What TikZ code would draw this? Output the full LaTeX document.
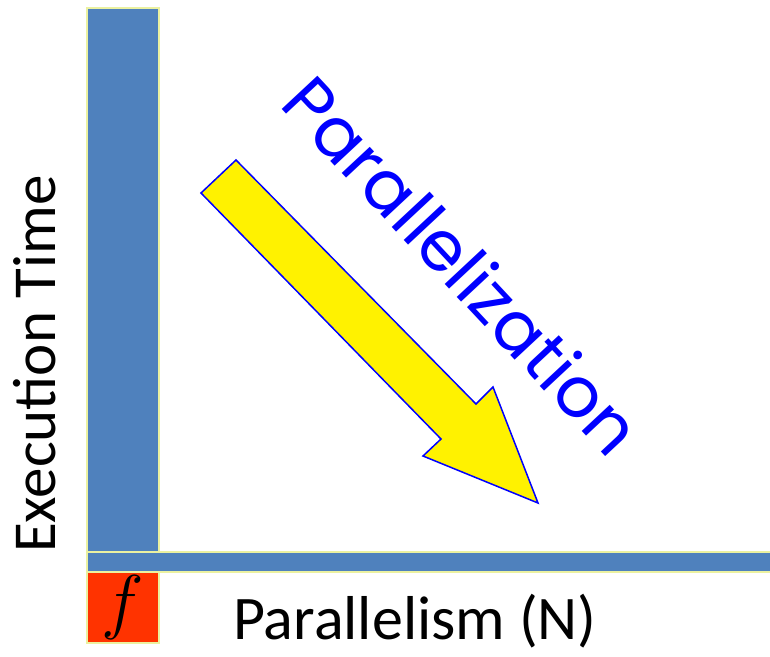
\RequirePackage{fix-cm}
\documentclass[tikz,border=0pt]{standalone}
\usepackage{fontspec}
\setmainfont{Carlito}
\newfontfamily\geofont{Poppins}
\usetikzlibrary{positioning}
\definecolor{barblue}{RGB}{79,129,189}
\definecolor{barrim}{RGB}{235,241,160}
\definecolor{fred}{RGB}{255,51,0}
\definecolor{arrowblue}{RGB}{0,0,255}

\begin{document}
\begin{tikzpicture}[x=1pt,y=-1pt,
  bar/.style={draw=barrim, fill=barblue, line width=1.5pt, inner sep=0pt, outer sep=0pt},
  axislabel/.style={font=\fontsize{61}{72}\selectfont, inner sep=0pt, anchor=base}]
  \useasboundingbox (0,0) rectangle (770,656);

  % time and parallelism bars
  \node[bar, minimum width=72, minimum height=544] (timebar) at (123,280) {};
  \node[bar, anchor=north west, minimum width=690, minimum height=20] (nbar) at (timebar.south west) {};
  \node[bar, fill=fred, anchor=north, minimum width=72, minimum height=71] (fbox) at (timebar.south |- nbar.south) {\fontsize{72}{80}\selectfont$f$};

  % yellow arrow
  \draw[draw=arrowblue, fill=yellow, line width=1.5pt, line join=miter]
    (236,160) -- (476,404) -- (493,387) -- (538,503) -- (423,456) -- (441,439) -- (201,193) -- cycle;

  % labels
  \node[axislabel, rotate=90] (timelabel) at (55,364) {Execution Time};
  \node[axislabel, font=\fontsize{62}{72}\selectfont] (nlabel) at (415,639) {Parallelism (N)};
  \node[font=\geofont\fontsize{70}{74}\selectfont, text=arrowblue, inner sep=0pt, anchor=base, rotate=-47] (plabel) at (444,283) {Parallelization};
\end{tikzpicture}
\end{document}
